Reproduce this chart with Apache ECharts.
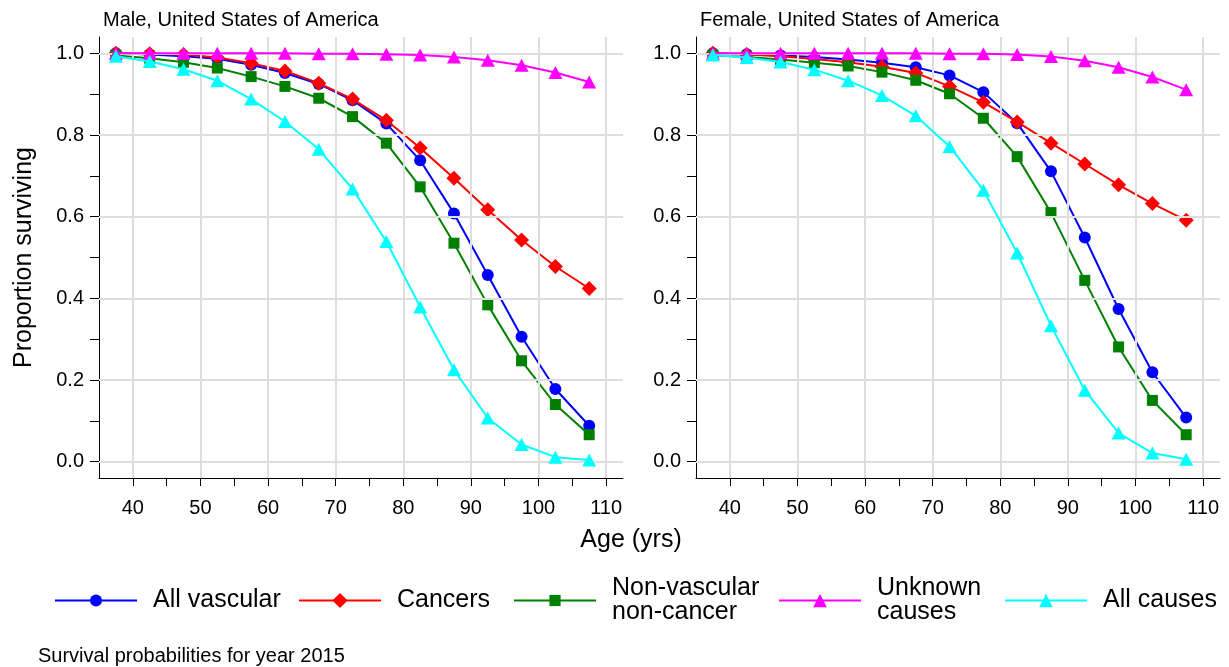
<!DOCTYPE html>
<html>
<head>
<meta charset="utf-8">
<script src="https://cdn.jsdelivr.net/npm/echarts@6/dist/echarts.min.js"></script>
<style>html,body{margin:0;padding:0;background:#fff}#c{width:1229px;height:667px}</style>
</head>
<body>
<div id="c"></div>
<script>
// ---- data ----
const ages = [37.5, 42.5, 47.5, 52.5, 57.5, 62.5, 67.5, 72.5, 77.5, 82.5, 87.5, 92.5, 97.5, 102.5, 107.5];
const seriesNames = ['All vascular', 'Cancers', 'Non-vascular non-cancer', 'Unknown causes', 'All causes'];
const legendLabels = ['All vascular', 'Cancers', 'Non-vascular\nnon-cancer', 'Unknown\ncauses', 'All causes'];
const panelTitles = ['Male, United States of America', 'Female, United States of America'];
const xLabelTicks = [40, 50, 60, 70, 80, 90, 100, 110];
const xMinorTicks = [40, 45, 50, 55, 60, 65, 70, 75, 80, 85, 90, 95, 100, 105, 110];
const yLabelTicks = [0, 0.2, 0.4, 0.6, 0.8, 1.0];
const yMinorTicks = [0, 0.1, 0.2, 0.3, 0.4, 0.5, 0.6, 0.7, 0.8, 0.9, 1.0];

const maleVascular   = [1.000, 0.997, 0.993, 0.987, 0.972, 0.952, 0.925, 0.885, 0.828, 0.738, 0.608, 0.457, 0.306, 0.178, 0.088];
const maleCancers    = [1.000, 0.999, 0.997, 0.990, 0.976, 0.957, 0.927, 0.888, 0.836, 0.768, 0.694, 0.617, 0.543, 0.478, 0.424];
const maleNonVasc    = [0.995, 0.988, 0.978, 0.964, 0.943, 0.919, 0.890, 0.845, 0.780, 0.673, 0.535, 0.384, 0.247, 0.140, 0.066];
const maleUnknown    = [1.000, 1.000, 1.000, 1.000, 1.000, 1.000, 0.999, 0.999, 0.998, 0.996, 0.991, 0.983, 0.971, 0.953, 0.930];
const maleAll        = [0.993, 0.980, 0.961, 0.933, 0.888, 0.833, 0.765, 0.668, 0.539, 0.379, 0.225, 0.107, 0.042, 0.011, 0.004];

const femaleVascular = [1.000, 0.998, 0.995, 0.991, 0.985, 0.977, 0.966, 0.946, 0.905, 0.829, 0.711, 0.549, 0.374, 0.219, 0.108];
const femaleCancers  = [1.000, 0.997, 0.993, 0.986, 0.978, 0.967, 0.952, 0.919, 0.880, 0.832, 0.780, 0.729, 0.678, 0.632, 0.591];
const femaleNonVasc  = [0.995, 0.991, 0.985, 0.977, 0.969, 0.954, 0.934, 0.901, 0.841, 0.747, 0.610, 0.444, 0.281, 0.150, 0.066];
const femaleUnknown  = [1.000, 1.000, 1.000, 1.000, 1.000, 1.000, 1.000, 0.999, 0.999, 0.997, 0.992, 0.982, 0.966, 0.942, 0.911];
const femaleAll      = [0.996, 0.990, 0.979, 0.960, 0.933, 0.897, 0.847, 0.772, 0.665, 0.511, 0.333, 0.175, 0.070, 0.021, 0.006];

const footnote = 'Survival probabilities for year 2015';
const xTitle = 'Age (yrs)';
const yTitle = 'Proportion surviving';

// ---- styles ----
const FONT = '"Liberation Sans", Arial, Helvetica, sans-serif';
const colors = ['#0000ff', '#ff0000', '#008000', '#ff00ff', '#00ffff'];
const symbols = ['circle', 'diamond', 'rect', 'triangle', 'triangle'];
const symbolSizes = [12, 15, 11, [14, 13], [14, 13]];
const legendIconHeights = [15, 19, 14, 17, 17];
const panels = [
  [maleVascular, maleCancers, maleNonVasc, maleUnknown, maleAll],
  [femaleVascular, femaleCancers, femaleNonVasc, femaleUnknown, femaleAll]
];
const gridLefts = [99, 696];
const GRID_COLOR = '#dedede';

const chart = echarts.init(document.getElementById('c'), null, {renderer: 'canvas'});

const grids = gridLefts.map(l => ({left: l, top: 37, width: 524, height: 441, containLabel: false}));

const xAxes = [0, 1].map(i => ({
  type: 'value', gridIndex: i, min: 35, max: 112.5,
  axisLine: {show: true, onZero: false, lineStyle: {color: '#000', width: 1}},
  axisTick: {show: true, length: 8, lineStyle: {color: '#000'}, customValues: xMinorTicks},
  axisLabel: {show: true, customValues: xLabelTicks, fontSize: 20, color: '#000', fontFamily: FONT, margin: 20},
  splitLine: {show: false}
}));

const yAxes = [0, 1].map(i => ({
  type: 'value', gridIndex: i, min: -0.04, max: 1.04,
  name: i === 0 ? yTitle : '', nameLocation: 'middle', nameGap: 62,
  nameTextStyle: {fontSize: 25, color: '#000', fontFamily: FONT},
  axisLine: {show: true, onZero: false, lineStyle: {color: '#000', width: 1}},
  axisTick: {show: true, length: 9, lineStyle: {color: '#000'}, customValues: yMinorTicks},
  axisLabel: {show: true, customValues: yLabelTicks, fontSize: 20, color: '#000', fontFamily: FONT, margin: 15,
              formatter: v => v.toFixed(1)},
  splitLine: {show: false}
}));

const series = [];
[0, 1].forEach(p => {
  // gridline carrier
  series.push({
    type: 'line', xAxisIndex: p, yAxisIndex: p, data: [], z: 1, silent: true,
    markLine: {
      silent: true, symbol: ['none', 'none'], label: {show: false}, animation: false,
      lineStyle: {color: GRID_COLOR, width: 2, type: 'solid'},
      emphasis: {disabled: true},
      data: xLabelTicks.map(v => ({xAxis: v})).concat(yLabelTicks.map(v => ({yAxis: v})))
    }
  });
  panels[p].forEach((vals, k) => {
    series.push({
      name: seriesNames[k], type: 'line', xAxisIndex: p, yAxisIndex: p, z: 2 + k,
      data: ages.map((a, j) => [a, vals[j]]),
      symbol: symbols[k], symbolSize: symbolSizes[k], showAllSymbol: true,
      lineStyle: {color: colors[k], width: 2},
      itemStyle: {color: colors[k], borderWidth: 0},
      emphasis: {disabled: true}, animation: false, clip: false
    });
  });
});

const legendLefts = [54, 298, 513, 778, 1004];
const legends = seriesNames.map((n, k) => {
  const multi = legendLabels[k].indexOf('\n') >= 0;
  return {
    data: [n], left: legendLefts[k], top: multi ? 576 : 588, padding: 0,
    itemWidth: 82, itemHeight: legendIconHeights[k], selectedMode: false,
    formatter: () => legendLabels[k],
    textStyle: {fontSize: 25, lineHeight: 24, color: '#000', fontFamily: FONT, padding: [0, 0, 0, 11]}
  };
});

chart.setOption({
  backgroundColor: '#fff',
  animation: false,
  title: [
    {text: panelTitles[0], left: 103, top: 10, padding: 0, textStyle: {fontSize: 20, fontWeight: 'normal', color: '#000', fontFamily: FONT}},
    {text: panelTitles[1], left: 700, top: 10, padding: 0, textStyle: {fontSize: 20, fontWeight: 'normal', color: '#000', fontFamily: FONT}},
    {text: footnote, left: 38, top: 646, padding: 0, textStyle: {fontSize: 20, fontWeight: 'normal', color: '#000', fontFamily: FONT}}
  ],
  graphic: [{type: 'text', x: 631, y: 540, style: {text: xTitle, fontSize: 25, fontFamily: FONT, fill: '#000', align: 'center', verticalAlign: 'middle'}}],
  legend: legends,
  grid: grids,
  xAxis: xAxes,
  yAxis: yAxes,
  series: series
});
</script>
</body>
</html>
